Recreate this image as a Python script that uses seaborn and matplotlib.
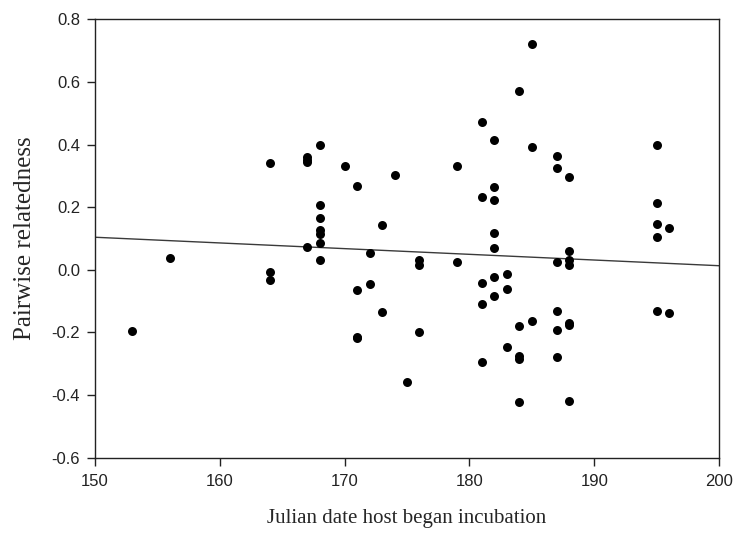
import matplotlib
matplotlib.use("Agg")
import matplotlib.pyplot as plt
import seaborn as sns
import pandas as pd

# Julian date host began incubation (x) and pairwise relatedness (y)
julian_date = [
    153, 156,
    164, 164, 164,
    167, 167, 167, 167,
    168, 168, 168, 168, 168, 168, 168,
    170,
    171, 171, 171, 171,
    172, 172,
    173, 173,
    174, 175,
    176, 176, 176,
    179, 179,
    181, 181, 181, 181, 181,
    182, 182, 182, 182, 182, 182, 182,
    183, 183, 183,
    184, 184, 184, 184, 184,
    185, 185, 185,
    187, 187, 187, 187, 187, 187,
    188, 188, 188, 188, 188, 188, 188,
    195, 195, 195, 195, 195,
    196, 196,
]
relatedness = [
    -0.195, 0.037,
    0.340, -0.006, -0.033,
    0.361, 0.351, 0.345, 0.074,
    0.399, 0.206, 0.164, 0.127, 0.115, 0.085, 0.031,
    0.331,
    0.268, -0.065, -0.214, -0.219,
    0.053, -0.046,
    0.143, -0.136,
    0.302, -0.357,
    0.031, 0.015, -0.198,
    0.331, 0.026,
    0.473, 0.231, -0.043, -0.109, -0.296,
    0.414, 0.265, 0.223, 0.117, 0.069, -0.022, -0.083,
    -0.014, -0.062, -0.247,
    0.572, -0.180, -0.275, -0.285, -0.421,
    0.721, 0.393, -0.164,
    0.363, 0.324, 0.024, -0.132, -0.192, -0.280,
    0.296, 0.061, 0.031, 0.014, -0.171, -0.176, -0.418,
    0.399, 0.214, 0.145, 0.106, -0.131,
    0.132, -0.139,
]

# fitted regression line
line_x = [150, 200]
line_y = [0.104, 0.013]

x_ticks = [150, 160, 170, 180, 190, 200]
y_ticks = [-0.6, -0.4, -0.2, 0.0, 0.2, 0.4, 0.6, 0.8]

df = pd.DataFrame({"date": julian_date, "rel": relatedness})
df_line = pd.DataFrame({"date": line_x, "rel": line_y})

sns.set_style("ticks")
plt.rcParams["font.family"] = ["Liberation Sans", "DejaVu Sans"]

fig = plt.figure(figsize=(7.35, 5.34), dpi=100)
ax = fig.add_axes([0.1288, 0.1429, 0.9787 - 0.1288, 0.9639 - 0.1429])

sns.lineplot(data=df_line, x="date", y="rel", ax=ax, color="#3a3a3a",
             linewidth=1.0)
sns.scatterplot(data=df, x="date", y="rel", ax=ax, color="black",
                s=42, linewidth=0, marker="o", zorder=3)

ax.set_xlim(150, 200)
ax.set_ylim(-0.6, 0.8)
ax.set_xticks(x_ticks)
ax.set_yticks(y_ticks)
ax.set_xticklabels([str(t) for t in x_ticks])
ax.set_yticklabels([f"{t:.1f}" for t in y_ticks])
ax.tick_params(axis="both", direction="out", length=5.5, width=1,
               labelsize=12, colors="#222222")
ax.tick_params(axis="x", pad=6)
ax.tick_params(axis="y", pad=5)

for sp in ax.spines.values():
    sp.set_visible(True)
    sp.set_color("#222222")
    sp.set_linewidth(1.0)

ax.set_xlabel("Julian date host began incubation", family="Liberation Serif",
              fontsize=15, labelpad=15)
ax.set_ylabel("Pairwise relatedness", family="Liberation Serif",
              fontsize=18, labelpad=11)

fig.savefig("out.png", dpi=100)
